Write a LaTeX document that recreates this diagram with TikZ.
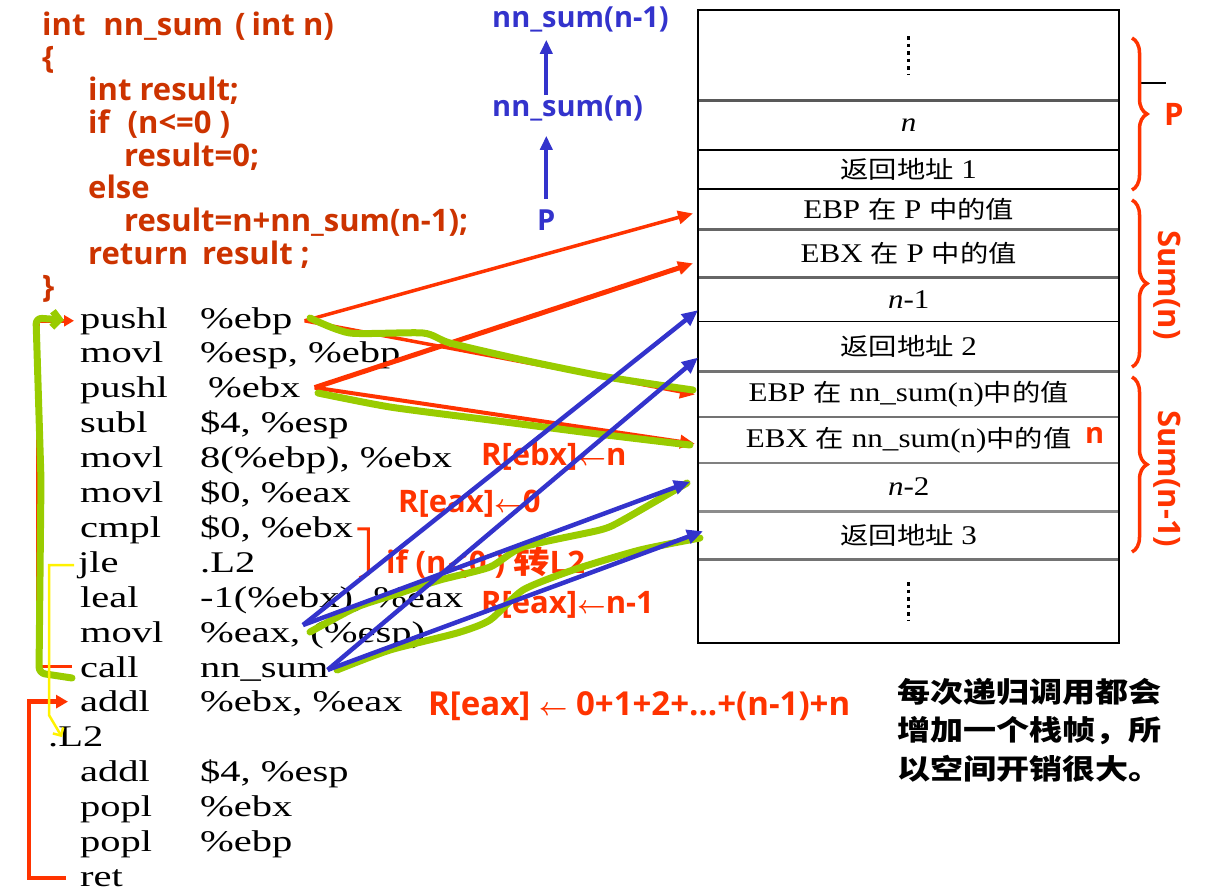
\documentclass[tikz,border=0pt]{standalone}
\usepackage{fontspec}
\usetikzlibrary{arrows.meta,positioning,decorations.pathreplacing}
\newfontfamily\labelfont{Open Sans}
\newfontfamily\asmfont{Liberation Serif}[FakeStretch=1.35]
\newfontfamily\cellfont{Liberation Serif}[FakeStretch=1.15]
\newfontfamily\cjkfont{Noto Sans CJK SC}[FakeStretch=1.18]
\newcommand{\zh}[1]{{\cjkfont #1}}
\newcommand{\zhc}[1]{{\cjkfont\fontsize{24}{24}\selectfont #1}}
\definecolor{codered}{RGB}{204,51,0}
\definecolor{markred}{RGB}{255,51,0}
\definecolor{callblue}{RGB}{51,51,204}
\definecolor{scribble}{RGB}{153,204,0}

\begin{document}
\begin{tikzpicture}[x=1pt,y=-1pt,
    code/.style={anchor=base west,inner sep=0pt,text=codered,
                 font=\labelfont\bfseries\fontsize{31}{31}\selectfont},
    asm/.style={anchor=base west,inner sep=0pt,font=\asmfont\fontsize{30}{30}\selectfont},
    cell/.style={minimum width=421pt,minimum height=#1,inner sep=0pt,
                 font=\cellfont\fontsize{27}{27}\selectfont},
    callnote/.style={anchor=base west,inner sep=0pt,text=callblue,
                 font=\labelfont\bfseries\fontsize{29}{29}\selectfont},
    note/.style={anchor=base west,inner sep=0pt,text=markred,
                 font=\labelfont\bfseries\boldmath\fontsize{31}{31}\selectfont},
    brace/.style={draw=markred,line width=3.5pt,decorate,decoration={brace,amplitude=15pt}},
    scrib/.style={draw=scribble,line width=7pt,line cap=round,line join=round}]
\useasboundingbox (0,0) rectangle (1219,892);

% C source
\begin{scope}[every node/.style={code}]
    \node (c1) at (42,35)  {int\hspace{18pt}nn\_sum\hspace{12pt}(\hspace{6pt}int n)};
    \node (c2) at (42,68)  {\{};
    \node (c3) at (88,100) {int result;};
    \node (c4) at (88,133) {if\hspace{18pt}(n<=0 )};
    \node (c5) at (124,166) {result=0;};
    \node (c6) at (88,198) {else};
    \node (c7) at (124,231) {result=n+nn\_sum(n-1);};
    \node (c8) at (88,264) {return\hspace{14pt}result ;};
    \node (c9) at (42,297) {\}};
\end{scope}

% assembly
\begin{scope}[every node/.style={asm}]
    \node (m1)  at (80,328)   {pushl}; \node (a1)  at (200,328)   {\%ebp};
    \node (m2)  at (80,362.9) {movl};  \node (a2)  at (200,362.9) {\%esp, \%ebp};
    \node (m3)  at (80,397.8) {pushl}; \node (a3)  at (208,397.8) {\%ebx};
    \node (m4)  at (80,432.7) {subl};  \node (a4)  at (200,432.7) {\$4, \%esp};
    \node (m5)  at (80,467.6) {movl};  \node (a5)  at (200,467.6) {8(\%ebp), \%ebx};
    \node (m6)  at (80,502.5) {movl};  \node (a6)  at (200,502.5) {\$0, \%eax};
    \node (m7)  at (80,537.4) {cmpl};  \node (a7)  at (200,537.4) {\$0, \%ebx};
    \node (m8)  at (78,572.3) {jle};   \node (a8)  at (200,572.3) {.L2};
    \node (m9)  at (80,607.2) {leal};  \node (a9)  at (200,607.2) {-1(\%ebx), \%eax};
    \node (m10) at (80,642.1) {movl};  \node (a10) at (200,642.1) {\%eax, (\%esp)};
    \node (m11) at (80,677)   {call};  \node (a11) at (200,677)   {nn\_sum};
    \node (m12) at (80,711.9) {addl};  \node (a12) at (200,711.9) {\%ebx, \%eax};
    \node (l2)  at (48,746.8) {.L2};
    \node (m14) at (80,781.7) {addl};  \node (a14) at (200,781.7) {\$4, \%esp};
    \node (m15) at (80,816.6) {popl};  \node (a15) at (200,816.6) {\%ebx};
    \node (m16) at (80,851.5) {popl};  \node (a16) at (200,851.5) {\%ebp};
    \node (m17) at (80,886.4) {ret};
\end{scope}

% stack
\node[cell=90pt,anchor=north west] (r0) at (698,10) {};
\node[cell=49pt,below=0pt of r0]  (r1)  {\textit{n}};
\node[cell=39pt,below=0pt of r1]  (r2)  {\zhc{返回地址} 1};
\node[cell=40pt,below=0pt of r2]  (r3)  {EBP \zhc{在} P \zhc{中的值}};
\node[cell=47pt,below=0pt of r3]  (r4)  {EBX \zhc{在} P \zhc{中的值}};
\node[cell=44pt,below=0pt of r4]  (r5)  {\textit{n}-1};
\node[cell=50pt,below=0pt of r5]  (r6)  {\zhc{返回地址} 2};
\node[cell=45pt,below=0pt of r6]  (r7)  {EBP \zhc{在} nn\_sum(n)\zhc{中的值}};
\node[cell=45pt,below=0pt of r7]  (r8)  {EBX \zhc{在} nn\_sum(n)\zhc{中的值}};
\node[cell=48pt,below=0pt of r8]  (r9)  {\textit{n}-2};
\node[cell=48pt,below=0pt of r9]  (r10) {\zhc{返回地址} 3};
\node[cell=83pt,below=0pt of r10] (r11) {};
\foreach \r/\w/\c in {r0/3/65,r1/2.5/100,r2/1.5/100,r3/2.5/60,r4/3/60,r5/1.5/100,
                      r6/3/55,r7/2.5/55,r8/2/50,r9/3/45,r10/3.5/55}
    \draw[line width=\w pt,black!\c] (\r.south west) -- (\r.south east);
\draw[line width=2pt] (r0.north west) rectangle (r11.south east);
\draw[line width=3.5pt,dash pattern=on 3.5pt off 4pt] ([yshift=19pt]r0.center) -- ([yshift=-19pt]r0.center);
\draw[line width=3.5pt,dash pattern=on 3.5pt off 4pt] ([yshift=19pt]r11.center) -- ([yshift=-19pt]r11.center);
\draw[line width=2pt] (1141,83) -- (1166,83);

% frames
\draw[brace] (1132,38) -- (1132,190);
\draw[brace] (1132,200) -- (1132,367);
\draw[brace] (1132,377) -- (1132,552);
\node[note] (fP) at (1164,125) {P};
\node[note,anchor=center,rotate=-90] (fSn) at (1167,285) {Sum(n)};
\node[note,anchor=center,rotate=-90] (fSn1) at (1167,479) {Sum(n-1)};

% call chain
\node[callnote] (nn1) at (492,27)  {nn\_sum(n-1)};
\node[callnote] (nn)  at (492,116) {nn\_sum(n)};
\node[callnote] (pp)  at (537,230) {P};
\begin{scope}[>={Triangle[length=14pt,width=12pt]},
              every edge/.style={draw=callblue,line width=4pt}]
    \path [->] ([yshift=10pt]pp.north) edge ([yshift=-15pt]pp.north |- nn.south);
    \path [->] (pp.north |- nn.north) edge ([yshift=-8pt]pp.north |- nn1.south);
\end{scope}

% labels
\node[note] (tEbx)  at (481,465) {R[ebx]$\leftarrow$n};
\node[note] (tEax0) at (398,512) {R[eax]$\leftarrow$0};
\node[note] (tIf)   at (386,573) {if (n$\le$0 ) \zh{转}L2};
\node[note] (tEaxN) at (481,613) {R[eax]$\leftarrow$n-1};
\node[note,font=\labelfont\bfseries\boldmath\fontsize{33}{33}\selectfont] (tSum) at (428,715)
    {R[eax] $\leftarrow$ 0+1+2+...+(n-1)+n};
\node[note,font=\labelfont\bfseries\fontsize{29}{29}\selectfont] (tN) at (1085,443) {n};
\node[anchor=north west,inner sep=0pt,align=left,
      font=\cjkfont\bfseries\fontsize{28}{38.5}\selectfont] (remark) at (897,678)
      {每次递归调用都会\\增加一个栈帧，所\\以空间开销很大。};

% jumps on the left
\draw[markred,line width=3.5pt,-{Triangle[length=10pt,width=11pt]}]
    ([xshift=-8pt]m11.west) -- ++(-34,0) |- ([xshift=-6pt]m1.west);
\draw[scrib,rounded corners=6pt,-{Straight Barb[length=7pt,width=16pt]}]
    (72,678) -- (39,673) -- (41,480) -- (36,318) -- (64,320);
\draw[markred,line width=4.5pt,-{Triangle[length=12pt,width=13pt]}]
    ([xshift=-14pt]m17.west) -- ++(-37,0) |- ([xshift=-12pt]m12.west);
\draw[yellow,line width=2.5pt,-{Straight Barb[length=6pt,width=12pt]}]
    ([xshift=-4pt]m8.west) -- ++(-25,0) -- ++(0,150) -- ([xshift=14pt]l2.west);
\draw[markred,line width=3pt] ([xshift=4pt]a7.east) -- ++(11,0) -- ++(0,45) -- ++(-9,4);

% saved registers
\begin{scope}[>={Triangle[length=15pt,width=13pt]},
              every edge/.style={draw=markred,line width=3.5pt}]
    \path [->] ([xshift=12pt]a1.east) edge ([xshift=-5pt,yshift=-4pt]r3.west);
    \path [->] ([xshift=12pt]a1.east) edge ([xshift=-3pt]r7.west);
    \path [->] ([xshift=14pt]a3.east) edge[line width=5pt] ([xshift=-5pt,yshift=-10pt]r4.west);
    \path [->] ([xshift=14pt]a3.east) edge[line width=4pt] ([xshift=-3pt,yshift=-4pt]r8.west);
\end{scope}
\draw[scrib] plot[smooth,tension=0.4] coordinates {(310,318) (350,333) (423,333) (450,343) (523,360) (607,377) (693,390)};
\draw[scrib] plot[smooth,tension=0.4] coordinates {(318,393) (390,407) (490,420) (590,433) (690,445)};
\draw[scrib] plot[smooth,tension=0.4] coordinates {(310,632) (357,607) (400,593) (440,580) (490,567) (523,547) (600,530) (623,520) (687,483)};
\draw[scrib] plot[smooth,tension=0.4] coordinates {(337,670) (390,650) (457,633) (490,620) (523,590) (573,570) (640,550) (700,538)};

% pushed by the call
\coordinate (callA) at (303,625);
\begin{scope}[>={Triangle[length=16pt,width=14pt]},
              every edge/.style={draw=callblue,line width=4.5pt}]
    \path [->] (callA) edge ([yshift=-11pt]r5.west);
    \path [->] (callA) edge ([xshift=-8pt,yshift=5pt]r9.west);
    \path [->] ([xshift=-1pt,yshift=2pt]a11.east) edge ([yshift=-11pt]r6.west);
    \path [->] ([xshift=-1pt,yshift=2pt]a11.east) edge ([xshift=5pt,yshift=4pt]r10.west);
\end{scope}
\end{tikzpicture}
\end{document}
